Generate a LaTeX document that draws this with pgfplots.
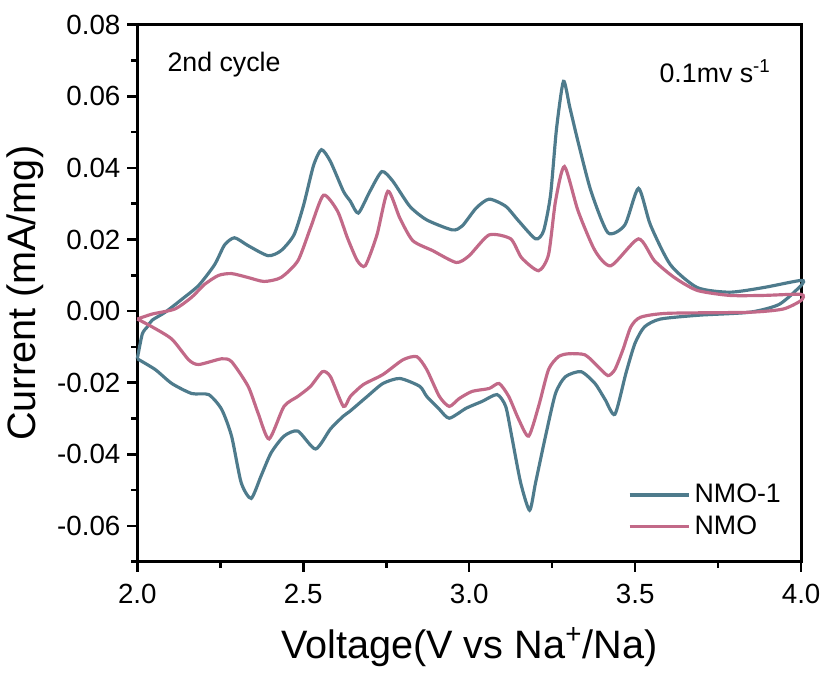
\documentclass[border=0pt]{standalone}
\usepackage{fontspec}
\setmainfont{Liberation Sans}
\usepackage{pgfplots}
\pgfplotsset{compat=1.18}
\usetikzlibrary{calc}

\definecolor{nmoone}{RGB}{78,123,140}
\definecolor{nmo}{RGB}{194,105,136}

\begin{document}
\begin{tikzpicture}
\begin{axis}[
  scale only axis, width=335pt, height=271pt,
  xmin=2, xmax=4, ymin=-0.07, ymax=0.08,
  xtick={2,2.5,3,3.5,4}, minor xtick={2.25,2.75,3.25,3.75},
  ytick={-0.06,-0.04,...,0.08}, minor ytick={-0.07,-0.05,...,0.07},
  scaled y ticks=false,
  xticklabel style={/pgf/number format/fixed, /pgf/number format/fixed zerofill, /pgf/number format/precision=1, yshift=-3pt},
  yticklabel style={/pgf/number format/fixed, /pgf/number format/fixed zerofill, /pgf/number format/precision=2},
  /pgf/number format/assume math mode=true,
  tick label style={font=\fontsize{14}{16}\selectfont},
  tick align=outside, tick pos=left,
  major tick length=5pt, minor tick length=3pt,
  every tick/.style={black, line width=1.3pt},
  axis line style={line width=1.5pt},
  xlabel={Voltage(V vs Na\textsuperscript{+}/Na)},
  ylabel={Current (mA/mg)},
  label style={font=\fontsize{20}{23}\selectfont},
  xlabel style={yshift=-5pt},
  legend style={at={(0.985,0.03)}, anchor=south east, draw=none, fill=none,
    font=\fontsize{13.5}{16}\selectfont, row sep=1pt},
  legend cell align=left,
  legend image code/.code={\draw[#1, line width=1.6pt] (0pt,0pt) -- (30pt,0pt);},
  clip=false,
]
\addplot[nmoone, line width=1.6pt, smooth, tension=0.4] coordinates {
(2.000,-0.0133) (2.015,-0.0064) (2.030,-0.0044) (2.045,-0.0025) (2.084,-0.0003)
(2.134,0.0033) (2.185,0.0072) (2.233,0.0130) (2.263,0.0185) (2.293,0.0205)
(2.334,0.0183) (2.394,0.0155) (2.433,0.0169) (2.472,0.0213) (2.501,0.0296)
(2.531,0.0407) (2.555,0.0451) (2.582,0.0418) (2.621,0.0335) (2.642,0.0307)
(2.666,0.0274) (2.701,0.0335) (2.737,0.0390) (2.770,0.0363) (2.821,0.0293)
(2.872,0.0255) (2.949,0.0227) (2.979,0.0238) (3.021,0.0288) (3.060,0.0313)
(3.110,0.0293) (3.149,0.0252) (3.200,0.0202) (3.224,0.0224) (3.245,0.0324)
(3.263,0.0509) (3.284,0.0642) (3.303,0.0570) (3.328,0.0473) (3.367,0.0335)
(3.418,0.0219) (3.469,0.0241) (3.510,0.0343) (3.546,0.0241) (3.606,0.0130)
(3.687,0.0066) (3.785,0.0053) (3.887,0.0066) (4.000,0.0086)
(4.000,0.0072) (3.934,0.0019) (3.845,-0.0003) (3.696,-0.0011) (3.576,-0.0022)
(3.528,-0.0044) (3.499,-0.0091) (3.472,-0.0174) (3.439,-0.0288) (3.409,-0.0246)
(3.379,-0.0202) (3.337,-0.0169) (3.290,-0.0183) (3.260,-0.0230) (3.230,-0.0349)
(3.200,-0.0479) (3.182,-0.0556) (3.155,-0.0479) (3.128,-0.0349) (3.110,-0.0266)
(3.084,-0.0233) (3.039,-0.0252) (2.991,-0.0271) (2.940,-0.0299) (2.910,-0.0274)
(2.872,-0.0238) (2.851,-0.0210) (2.791,-0.0188) (2.740,-0.0202) (2.693,-0.0238)
(2.640,-0.0280) (2.621,-0.0293) (2.582,-0.0329) (2.537,-0.0385) (2.484,-0.0335)
(2.442,-0.0349) (2.403,-0.0396) (2.373,-0.0460) (2.343,-0.0523) (2.313,-0.0479)
(2.284,-0.0349) (2.254,-0.0274) (2.215,-0.0233) (2.164,-0.0230) (2.104,-0.0202)
(2.054,-0.0163) (2.000,-0.0133)
};
\addlegendentry{NMO-1}
\addplot[nmo, line width=1.6pt, smooth, tension=0.4] coordinates {
(2.000,-0.0022) (2.045,-0.0008) (2.113,0.0006) (2.164,0.0039) (2.203,0.0075)
(2.245,0.0100) (2.284,0.0105) (2.334,0.0094) (2.382,0.0083) (2.433,0.0094)
(2.484,0.0141) (2.522,0.0233) (2.561,0.0324) (2.603,0.0280) (2.633,0.0205)
(2.663,0.0141) (2.687,0.0127) (2.722,0.0213) (2.755,0.0335) (2.791,0.0260)
(2.830,0.0197) (2.890,0.0169) (2.961,0.0136) (3.000,0.0155) (3.060,0.0213)
(3.125,0.0202) (3.158,0.0149) (3.209,0.0113) (3.239,0.0158) (3.260,0.0307)
(3.287,0.0404) (3.328,0.0280) (3.379,0.0169) (3.427,0.0127) (3.510,0.0202)
(3.558,0.0141) (3.618,0.0094) (3.687,0.0058) (3.785,0.0044) (3.887,0.0044)
(4.000,0.0047)
(4.000,0.0030) (3.946,0.0006) (3.845,-0.0003) (3.597,-0.0006) (3.516,-0.0017)
(3.487,-0.0044) (3.463,-0.0108) (3.439,-0.0163) (3.418,-0.0180) (3.388,-0.0155)
(3.349,-0.0122) (3.299,-0.0119) (3.269,-0.0127) (3.239,-0.0163) (3.209,-0.0266)
(3.179,-0.0349) (3.149,-0.0302) (3.119,-0.0238) (3.090,-0.0202) (3.060,-0.0216)
(3.009,-0.0224) (2.970,-0.0244) (2.940,-0.0266) (2.910,-0.0238) (2.872,-0.0163)
(2.842,-0.0127) (2.800,-0.0136) (2.740,-0.0177) (2.681,-0.0205) (2.642,-0.0238)
(2.621,-0.0266) (2.582,-0.0183) (2.558,-0.0169) (2.522,-0.0210) (2.484,-0.0238)
(2.442,-0.0266) (2.397,-0.0357) (2.364,-0.0285) (2.334,-0.0210) (2.284,-0.0141)
(2.254,-0.0133) (2.185,-0.0149) (2.155,-0.0136) (2.104,-0.0078) (2.045,-0.0044)
(2.000,-0.0022)
};
\addlegendentry{NMO}
\node[anchor=west, font=\fontsize{13.5}{15}\selectfont] at (rel axis cs:0.035,0.926) {2nd cycle};
\node[anchor=east, font=\fontsize{13.5}{15}\selectfont] at (rel axis cs:0.965,0.913) {0.1mv s\textsuperscript{-1}};
\end{axis}
\path[use as bounding box] ($(current axis.south west)+(-67.5pt,-49.5pt)$) rectangle ($(current axis.north east)+(11pt,12.5pt)$);
\end{tikzpicture}
\end{document}
